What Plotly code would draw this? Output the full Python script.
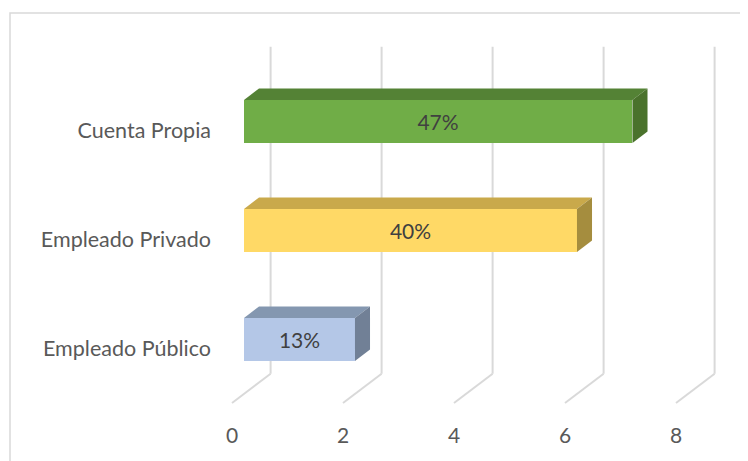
import plotly.graph_objects as go

categories = ["Empleado Público", "Empleado Privado", "Cuenta Propia"]
values = [2, 6, 7]
labels = ["13%", "40%", "47%"]
tick_vals = [0, 2, 4, 6, 8]
front_colors = ["#B4C7E7", "#FFD966", "#70AD47"]
top_colors = ["#8497B0", "#C9A94B", "#548235"]
side_colors = ["#718096", "#A58D3E", "#4A722C"]

# Page offset (default body margin of the html page)
OFF = 8
# Plot geometry (pixels, in window coordinates)
W, H = 748, 461
L, R, T, B = 222, 724, 36, 410
PX_X = 55.5      # px per value unit
PX_Y = 109.0     # px per category unit
X0_PX = 232      # px of value 0 at the front plane
DEPTH_X, DEPTH_Y = 38.6, 29.3   # oblique offset of back plane (px)
D_FRONT, D_BACK = 0.31, 0.70    # bar depth fractions
BAR_H = 43 / PX_Y

xr = [(L - X0_PX) / PX_X, (R - X0_PX) / PX_X]
yr = [-0.5 - (B - 403) / PX_Y, -0.5 + (403 - T) / PX_Y]

def off(d):
    return DEPTH_X * d / PX_X, DEPTH_Y * d / PX_Y

fig = go.Figure()

dxf, dyf = off(D_FRONT)
dxb, dyb = off(D_BACK)

# front faces
fig.add_trace(go.Bar(
    y=[i + dyf for i in range(len(values))], x=values, base=[dxf] * len(values),
    orientation="h", width=BAR_H, marker=dict(color=front_colors, line=dict(width=0)),
    text=labels, textposition="inside", insidetextanchor="middle",
    textfont=dict(family="Lato", size=21, color="#404040"), hoverinfo="skip",
    showlegend=False,
))

# top and side faces
for i, v in enumerate(values):
    ytf = i + dyf + BAR_H / 2
    ybf = i + dyf - BAR_H / 2
    ytb = i + dyb + BAR_H / 2
    ybb = i + dyb - BAR_H / 2
    fig.add_trace(go.Scatter(
        x=[dxf, dxf + v, dxb + v, dxb, dxf], y=[ytf, ytf, ytb, ytb, ytf],
        fill="toself", fillcolor=top_colors[i], mode="lines", line=dict(width=0),
        hoverinfo="skip", showlegend=False))
    fig.add_trace(go.Scatter(
        x=[dxf + v, dxf + v, dxb + v, dxb + v, dxf + v], y=[ybf, ytf, ytb, ybb, ybf],
        fill="toself", fillcolor=side_colors[i], mode="lines", line=dict(width=0),
        hoverinfo="skip", showlegend=False))

# 3D gridlines (back wall + floor slants)
gx, gy = off(1.0)
shapes = []
for t in tick_vals:
    shapes.append(dict(type="line", xref="x", yref="y", layer="below",
                       x0=t + gx, x1=t + gx, y0=-0.5 + gy, y1=2.5 + gy,
                       line=dict(color="#D9D9D9", width=2)))
    shapes.append(dict(type="line", xref="x", yref="y", layer="below",
                       x0=t + gx, x1=t, y0=-0.5 + gy, y1=-0.5,
                       line=dict(color="#D9D9D9", width=2)))
# chart border
pw, ph = R - L, B - T
shapes.append(dict(type="rect", xref="paper", yref="paper", layer="below",
                   x0=(10 - L) / pw, x1=(W + 5 - L) / pw,
                   y0=(B - (H + 5)) / ph, y1=(B - 13) / ph,
                   line=dict(color="#D9D9D9", width=1.5)))

fig.update_layout(
    width=W, height=H,
    margin=dict(l=L - OFF, r=W - R + OFF, t=T - OFF, b=H - B + OFF, autoexpand=False),
    paper_bgcolor="white", plot_bgcolor="rgba(0,0,0,0)",
    shapes=shapes, bargap=0,
    font=dict(family="Lato", size=21.5, color="#595959"),
    xaxis=dict(range=xr, tickvals=tick_vals, ticktext=[str(t) for t in tick_vals],
               showgrid=False, zeroline=False, showline=False, ticks="",
               ticklabelstandoff=11, tickfont=dict(size=21), fixedrange=True),
    yaxis=dict(range=yr, tickvals=list(range(len(categories))), ticktext=categories,
               showgrid=False, zeroline=False, showline=False, ticks="",
               ticklabelstandoff=10, fixedrange=True),
)

fig.write_html("out.html")
